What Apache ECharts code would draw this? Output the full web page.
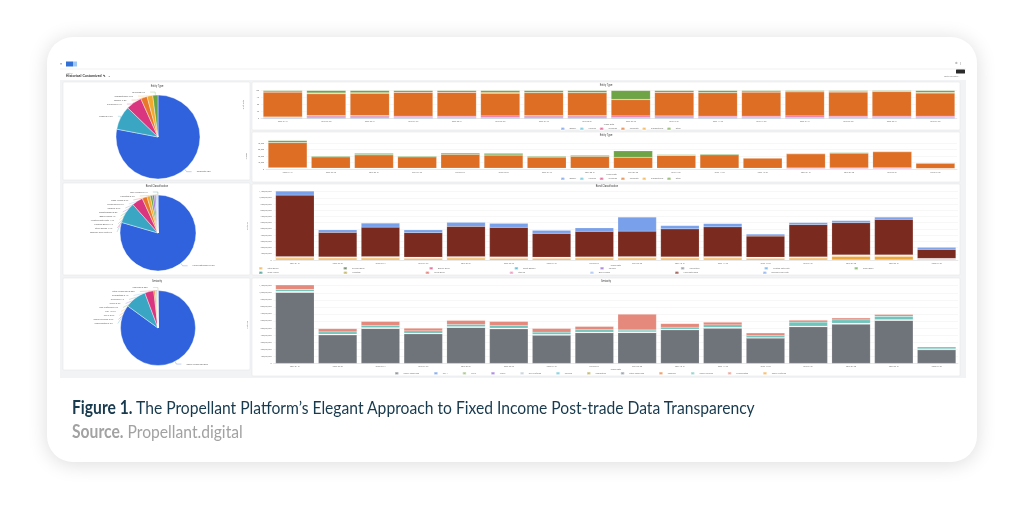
<!doctype html>
<html lang="en">
<head>
<meta charset="UTF-8">
<title>Propellant Platform - Fixed Income Post-trade</title>
<script src="https://cdn.jsdelivr.net/npm/echarts@6/dist/echarts.min.js"></script>
<style>
    html, body { margin: 0; padding: 0; background: #fff; }
    #card { position: absolute; left: 47px; top: 37px; width: 930px; height: 425px;
            border-radius: 26px; background: #fff; box-shadow: 0 2px 20px rgba(0,0,0,0.14); }
    #main { position: absolute; left: 0; top: 0; width: 1024px; height: 519px; }
    .cap { position: absolute; left: 72px; font-family: Lato, "Open Sans", sans-serif; font-size: 18px;
           line-height: 18px; white-space: nowrap; transform-origin: 0 0; }
</style>
</head>
<body>
<div id="card"></div>
<div id="main"></div>
<div id="cap1" class="cap" style="top:398px;color:#173a4e"><b>Figure 1.</b> The Propellant Platform’s Elegant Approach to Fixed Income Post-trade Data Transparency</div>
<div id="cap2" class="cap" style="top:422px;color:#a2a2a2"><b>Source.</b> Propellant.digital</div>
<script type="text/javascript">
    // trade dates on every bar chart
    var dates = ['2022-01-31', '2022-02-28', '2022-03-31', '2022-04-29', '2022-05-31', '2022-06-30',
        '2022-07-29', '2022-08-31', '2022-09-30', '2022-10-31', '2022-11-30', '2022-12-30',
        '2023-01-31', '2023-02-28', '2023-03-31', '2023-04-28'];

    // entity type, % of total per date
    var entityNames = ['Agency', 'Covered', 'Sovereign', 'Corporate', 'Supranational', 'Other'];
    var agencyShare = [2, 4, 4, 3, 3, 3, 4, 4, 3, 4, 3, 3, 3, 3, 3, 3];
    var coveredShare = [1, 2, 2, 2, 2, 2, 2, 2, 2, 2, 2, 2, 2, 2, 2, 2];
    var sovereignShare = [2, 4, 4, 3, 3, 4, 4, 4, 4, 3, 3, 3, 4, 3, 3, 3];
    var corporateShare = [89, 78, 80, 85, 85, 81, 82, 82, 58, 84, 84, 86, 86, 86, 88, 83];
    var supraShare = [1, 3, 2, 1, 1, 3, 1, 1, 1, 1, 1, 1, 1, 4, 1, 2];
    var otherShare = [5, 9, 8, 6, 6, 7, 7, 7, 32, 6, 7, 5, 4, 2, 3, 7];

    // entity type, trade count per date
    var agencyCount = [800, 500, 600, 500, 600, 600, 500, 500, 600, 600, 600, 500, 700, 700, 800, 300];
    var coveredCount = [400, 300, 300, 300, 300, 300, 300, 300, 300, 300, 300, 300, 300, 300, 300, 200];
    var sovereignCount = [800, 500, 600, 500, 600, 600, 500, 500, 600, 600, 600, 400, 600, 900, 900, 300];
    var corporateCount = [39000, 17500, 20500, 17500, 21200, 20300, 17300, 18300, 16500, 19800, 20700, 15700, 21900, 22700, 24800, 8000];
    var supraCount = [300, 200, 300, 200, 200, 300, 200, 200, 200, 200, 200, 200, 300, 400, 300, 100];
    var otherCount = [3000, 1200, 2000, 1000, 1800, 2200, 1200, 1400, 10000, 1000, 1200, 800, 1000, 900, 800, 600];
    var countTicks = [0, 10000, 20000, 30000, 40000];

    // bond classification, notional in millions
    var bondNames = ['Other Bonds', 'Covered Bond', 'Agency Bond', 'Asset Backed', 'Callable', 'Convertible',
        'Floating Rate Note', 'Green Bond', 'Index Linked', 'Perpetual', 'Social Bond', 'Step Up',
        'Zero Coupon', 'Fixed Rate Bond', 'Medium Term Note'];
    var otherBonds = [30, 30, 30, 28, 30, 28, 28, 30, 30, 30, 30, 28, 30, 60, 60, 14];
    var coveredBond = [11, 9, 10, 9, 11, 10, 9, 10, 10, 10, 11, 8, 10, 12, 12, 6];
    var agencyBond = [2, 1, 2, 1, 2, 1, 1, 2, 1, 2, 1, 1, 2, 2, 1, 1];
    var assetBacked = [1, 1, 1, 1, 1, 2, 1, 1, 1, 1, 1, 1, 1, 1, 2, 1];
    var callableBond = [2, 1, 1, 1, 2, 1, 1, 1, 2, 1, 1, 1, 1, 2, 1, 1];
    var convertibleBond = [1, 1, 1, 1, 1, 1, 1, 1, 1, 1, 1, 1, 1, 1, 1, 0];
    var floatingNote = [2, 1, 2, 1, 1, 2, 1, 1, 2, 1, 2, 1, 1, 1, 2, 1];
    var greenBond = [1, 1, 1, 1, 1, 1, 0, 1, 1, 1, 1, 1, 1, 1, 1, 0];
    var indexLinked = [1, 0, 1, 1, 1, 1, 1, 0, 1, 1, 1, 0, 1, 1, 1, 0];
    var perpetualBond = [1, 1, 1, 0, 1, 1, 1, 1, 1, 0, 1, 1, 1, 1, 1, 0];
    var socialBond = [1, 0, 1, 1, 0, 1, 1, 1, 0, 1, 1, 0, 1, 1, 0, 0];
    var stepUp = [0, 1, 0, 1, 1, 0, 1, 0, 1, 1, 0, 1, 0, 1, 1, 0];
    var zeroCoupon = [1, 1, 1, 0, 1, 1, 0, 1, 1, 1, 1, 0, 1, 0, 1, 0];
    var fixedRateBond = [992, 396, 476, 396, 487, 476, 385, 412, 412, 449, 482, 342, 520, 517, 570, 149];
    var mediumTermNote = [65, 43, 65, 43, 65, 65, 48, 54, 226, 54, 54, 32, 32, 32, 38, 32];

    // seniority, notional in millions (names in stacking order)
    var seniorityNames = ['Senior Unsecured', 'Tier 1', 'Tier 2', 'Junior', 'Non Preferred', 'Covered',
        'Guaranteed', 'Other Unsecured', 'Unknown', 'Senior Secured', 'Subordinated', 'Senior Preferred'];
    var seniorUnsecured = [1006, 404, 495, 419, 509, 490, 401, 434, 435, 476, 499, 359, 519, 557, 608, 193];
    var tier1 = [2, 1, 1, 2, 1, 1, 1, 2, 1, 1, 2, 1, 1, 2, 2, 1];
    var tier2 = [3, 2, 2, 2, 2, 3, 2, 2, 2, 2, 2, 1, 2, 3, 3, 1];
    var juniorDebt = [1, 1, 1, 1, 1, 1, 1, 1, 1, 1, 1, 1, 1, 1, 1, 0];
    var nonPreferred = [2, 1, 2, 1, 2, 1, 1, 1, 2, 1, 1, 1, 2, 2, 2, 1];
    var coveredSen = [1, 1, 1, 0, 1, 1, 1, 1, 1, 1, 0, 1, 1, 1, 1, 0];
    var guaranteed = [1, 0, 1, 1, 1, 0, 1, 1, 0, 1, 1, 0, 1, 1, 1, 0];
    var otherUnsecured = [1, 1, 0, 1, 1, 1, 0, 1, 1, 0, 1, 1, 0, 1, 1, 0];
    var unknownSen = [1, 1, 1, 1, 0, 1, 1, 0, 1, 1, 1, 0, 1, 0, 1, 0];
    var seniorSecured = [28, 33, 33, 33, 33, 38, 33, 33, 28, 28, 38, 28, 57, 47, 47, 19];
    var subordinated = [66, 47, 57, 38, 57, 57, 52, 47, 226, 52, 38, 38, 28, 28, 28, 19];
    var seniorPreferred = [1, 1, 1, 1, 1, 1, 1, 1, 1, 1, 1, 1, 1, 1, 1, 1];
    var notionalTicks = [0, 100, 200, 300, 400, 500, 600, 700, 800, 900, 1000, 1100];

    // pies, share of notional in %
    var entityPieNames = ['Corporate', 'Financial', 'Sovereign', 'Agency', 'Supranational', 'Municipal'];
    var entityPie = [78, 9.2, 6.1, 2.5, 2.2, 2];
    var classPieNames = ['Fixed Rate Bond', 'Medium Term Note', 'Other Bonds', 'Covered Bond', 'Floating Rate Note',
        'Agency Bond', 'Asset Backed', 'Callable', 'Green Bond', 'Index Linked', 'Perpetual', 'Zero Coupon'];
    var classPie = [79.5, 9, 4.7, 2.1, 1.4, 1, 0.8, 0.6, 0.4, 0.2, 0.2, 0.1];
    var seniorityPieNames = ['Senior Unsecured', 'Subordinated', 'Senior Secured', 'Tier 2', 'Tier 1', 'Non Preferred',
        'Junior', 'Covered', 'Guaranteed', 'Other Unsecured', 'Unknown'];
    var seniorityPie = [85, 9.3, 3.9, 0.6, 0.4, 0.3, 0.2, 0.1, 0.1, 0.05, 0.05];

    var pieColors = ['#2f62dc', '#3aa6c4', '#d9367f', '#e8772c', '#f1aa2e', '#67a544', '#8c5bd6',
        '#7d8793', '#7fb2ef', '#e05a4e', '#b1a33b', '#2d8a7c'];
    var entityColors = ['#6a93e6', '#58bfd6', '#df3f7f', '#dd6e24', '#f3a733', '#6fa446'];
    var bondColors = ['#f0a73a', '#4b6a3e', '#e0407f', '#3aa6c4', '#8c5bd6', '#7d8793', '#5aa3e8',
        '#67a544', '#2d8a7c', '#b1a33b', '#e05a4e', '#e87db0', '#9bb8f2', '#7a2a1f', '#79a0ea'];
    var seniorityColors = ['#6f737a', '#5b8de8', '#8fb86a', '#8c5bd6', '#b9c3cf', '#3aa6c4', '#b1a33b',
        '#7d8793', '#e8772c', '#6fc4bb', '#e4897b', '#f3a733'];

    var entityShareData = [agencyShare, coveredShare, sovereignShare, corporateShare, supraShare, otherShare];
    var entityCountData = [agencyCount, coveredCount, sovereignCount, corporateCount, supraCount, otherCount];
    var bondData = [otherBonds, coveredBond, agencyBond, assetBacked, callableBond, convertibleBond, floatingNote,
        greenBond, indexLinked, perpetualBond, socialBond, stepUp, zeroCoupon, fixedRateBond, mediumTermNote];
    var seniorityData = [seniorUnsecured, tier1, tier2, juniorDebt, nonPreferred, coveredSen, guaranteed,
        otherUnsecured, unknownSen, seniorSecured, subordinated, seniorPreferred];

    var myChart = echarts.init(document.getElementById('main'));

    var tiny = {fontSize: 2.2, color: '#777', fontFamily: 'Roboto'};

    function xCat(gi, gap) {
        return {
            gridIndex: gi, type: 'category', data: dates,
            name: 'Trade Date', nameLocation: 'middle', nameGap: gap,
            nameTextStyle: tiny,
            axisLabel: {fontSize: 2, color: '#777', margin: 2},
            axisTick: {show: false},
            axisLine: {lineStyle: {color: '#d8d8d8', width: 0.5}}
        };
    }

    function yVal(gi, ticks, name, fmt) {
        return {
            gridIndex: gi, type: 'value', min: ticks[0], max: ticks[ticks.length - 1],
            interval: ticks[1] - ticks[0],
            name: name, nameLocation: 'middle', nameGap: fmt ? 14 : 8, nameTextStyle: tiny,
            axisLabel: {fontSize: 2, color: '#777', margin: 2, formatter: fmt},
            splitLine: {lineStyle: {color: '#efefef', width: 0.5}}
        };
    }

    function stacked(names, arrays, colors, xi, stack) {
        return names.map(function (n, i) {
            return {
                name: n, type: 'bar', stack: stack, xAxisIndex: xi, yAxisIndex: xi,
                data: arrays[i], barCategoryGap: '10%', clip: false,
                itemStyle: {color: colors[i], borderColor: 'rgba(255,255,255,0.5)', borderWidth: 0.3},
                emphasis: {disabled: true}
            };
        });
    }

    function pie(names, values, center, r) {
        return {
            type: 'pie', center: center, radius: r, startAngle: 90,
            data: names.map(function (n, i) {
                return {name: n, value: values[i], itemStyle: {color: pieColors[i]}};
            }),
            itemStyle: {borderColor: '#fff', borderWidth: 0.4},
            label: {fontSize: 2.2, color: '#666', formatter: '{b} {d}%'},
            labelLine: {length: 3, length2: 5, lineStyle: {width: 0.3}},
            emphasis: {disabled: true}
        };
    }

    // one-row legend (width kept wide so it never wraps)
    function legend(names, top, left, gap) {
        return {
            data: names, top: top, left: left, width: 900,
            itemWidth: 3.5, itemHeight: 2.5, itemGap: gap, padding: 0,
            textStyle: {fontSize: 2, color: '#777'}
        };
    }

    function panel(x, y, w, h) {
        return {type: 'rect', z: -5, shape: {x: x, y: y, width: w, height: h, r: 1},
            style: {fill: '#fff', stroke: '#e3e3e3', lineWidth: 0.5}};
    }

    function label(txt, x, y, size, color, weight) {
        return {type: 'text', z: 20, x: x, y: y,
            style: {text: txt, fontSize: size, fill: color || '#444', fontWeight: weight || 'normal',
                align: 'center', verticalAlign: 'middle', fontFamily: 'Roboto'}};
    }

    var millions = function (v) { return v === 0 ? '0' : echarts.format.addCommas(v) + ',000,000'; };
    var counts = function (v) { return echarts.format.addCommas(v); };

    var option = {
        animation: false,
        textStyle: {fontFamily: 'Roboto'},
        graphic: [
            // dashboard frame
            {type: 'rect', z: -6, shape: {x: 60, y: 80, width: 906, height: 298}, style: {fill: '#f2f3f5'}},
            {type: 'line', z: -6, shape: {x1: 60, y1: 69, x2: 966, y2: 69}, style: {stroke: '#e8e8e8', lineWidth: 0.6}},
            {type: 'rect', z: 5, shape: {x: 66, y: 61.5, width: 7, height: 5}, style: {fill: '#2f6fd6'}},
            {type: 'rect', z: 5, shape: {x: 73, y: 61.5, width: 4, height: 5}, style: {fill: '#9cc6f3'}},
            {type: 'text', z: 5, x: 60, y: 64, style: {text: '≡', fontSize: 3.5, fill: '#666', verticalAlign: 'middle'}},
            {type: 'text', z: 5, x: 66, y: 73, style: {text: 'History', fontSize: 2.2, fill: '#888', verticalAlign: 'middle'}},
            {type: 'text', z: 5, x: 66, y: 76.5, style: {text: 'Historical Customized  ✎  ⌄', fontSize: 3.4, fill: '#333', fontWeight: 'bold', verticalAlign: 'middle'}},
            {type: 'text', z: 5, x: 955, y: 63.5, style: {text: '⚙  ⋮', fontSize: 2.5, fill: '#777', verticalAlign: 'middle'}},
            {type: 'rect', z: 5, shape: {x: 956, y: 69.5, width: 9, height: 4, r: 0.6}, style: {fill: '#2b2b2b'}},
            {type: 'text', z: 5, x: 944, y: 76.5, style: {text: 'Last 12 months ⌄', fontSize: 2, fill: '#777', verticalAlign: 'middle'}},
            panel(63, 82, 187, 98),
            panel(252, 82, 708, 48),
            panel(252, 132, 708, 50),
            panel(63, 183, 187, 92),
            panel(252, 184, 708, 91),
            panel(63, 278, 187, 92),
            panel(252, 278, 708, 98),
            label('Entity Type', 157, 86, 2.6),
            label('Bond Classification', 157, 186, 2.6),
            label('Seniority', 157, 281, 2.6),
            label('Entity Type', 606, 85.5, 2.6),
            label('Entity Type', 606, 135.5, 2.6),
            label('Bond Classification', 607, 186.5, 2.6),
            label('Seniority', 606, 281, 2.6)
        ],
        grid: [
            {left: 261, right: 67, top: 90.5, bottom: 400.7},
            {left: 266, right: 67, top: 143.3, bottom: 350},
            {left: 273.5, right: 66, top: 191.7, bottom: 259},
            {left: 273.5, right: 66, top: 285.7, bottom: 155.7}
        ],
        xAxis: [xCat(0, 3.5), xCat(1, 3.5), xCat(2, 4.5), xCat(3, 4)],
        yAxis: [
            yVal(0, [0, 25, 50, 75, 100], '% of Total'),
            yVal(1, countTicks, 'Trades', counts),
            yVal(2, notionalTicks, 'Notional', millions),
            yVal(3, notionalTicks, 'Notional', millions)
        ],
        legend: [
            legend(entityNames, 126.5, 560, 3),
            legend(entityNames, 176.5, 560, 3),
            legend(bondNames.slice(0, 8), 266, 258, 64),
            legend(bondNames.slice(8), 270.5, 258, 64),
            legend(seniorityNames, 371, 394, 14)
        ],
        series: [].concat(
            stacked(entityNames, entityShareData, entityColors, 0, 'share'),
            stacked(entityNames, entityCountData, entityColors, 1, 'count'),
            stacked(bondNames, bondData, bondColors, 2, 'bond'),
            stacked(seniorityNames, seniorityData, seniorityColors, 3, 'seniority'),
            [
                pie(entityPieNames, entityPie, [158, 137], 42),
                pie(classPieNames, classPie, [158, 233], 38),
                pie(seniorityPieNames, seniorityPie, [158, 328], 37.5)
            ]
        )
    };

    myChart.setOption(option);

    // squeeze the caption to the condensed width of the figure text
    var cap1 = document.getElementById('cap1');
    var cap2 = document.getElementById('cap2');
    var k = 683 / cap1.scrollWidth;
    cap1.style.transform = 'scaleX(' + k + ')';
    cap2.style.transform = 'scaleX(' + k + ')';
</script>
</body>
</html>
